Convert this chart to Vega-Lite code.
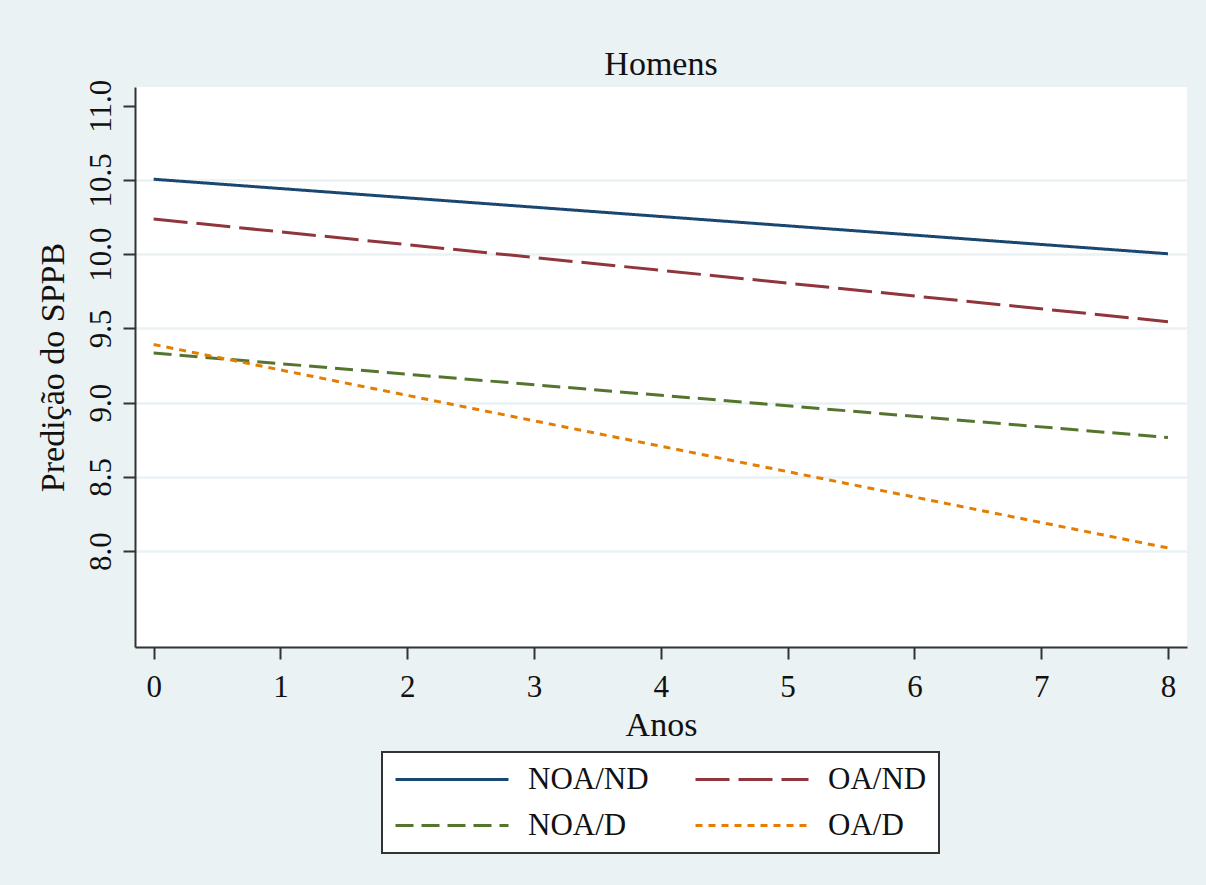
{
  "$schema": "https://vega.github.io/schema/vega-lite/v6.json",
  "width": 1052,
  "height": 560,
  "autosize": {"type": "none"},
  "padding": {"left": 135, "top": 87, "right": 19, "bottom": 238},
  "background": "#EAF2F3",
  "title": {"text": "Homens", "font": "Liberation Serif", "fontSize": 34, "fontWeight": "normal", "color": "#111", "anchor": "middle", "offset": -3},
  "data": {
    "values": [
      {"anos": 0, "pred": 10.505, "grupo": "NOA/ND"},
      {"anos": 8, "pred": 10.003, "grupo": "NOA/ND"},
      {"anos": 0, "pred": 10.237, "grupo": "OA/ND"},
      {"anos": 8, "pred": 9.546, "grupo": "OA/ND"},
      {"anos": 0, "pred": 9.334, "grupo": "NOA/D"},
      {"anos": 8, "pred": 8.766, "grupo": "NOA/D"},
      {"anos": 0, "pred": 9.392, "grupo": "OA/D"},
      {"anos": 8, "pred": 8.022, "grupo": "OA/D"}
    ]
  },
  "mark": {"type": "line", "strokeWidth": 3, "clip": true},
  "encoding": {
    "x": {
      "field": "anos", "type": "quantitative",
      "scale": {"domain": [-0.147, 8.15], "nice": false, "zero": false},
      "axis": {"title": "Anos", "values": [0, 1, 2, 3, 4, 5, 6, 7, 8], "grid": false, "labelPadding": 13, "titlePadding": 6, "format": "d"}
    },
    "y": {
      "field": "pred", "type": "quantitative",
      "scale": {"domain": [7.355, 11.126], "nice": false, "zero": false},
      "axis": {
        "title": "Predição do SPPB",
        "values": [8, 8.5, 9, 9.5, 10, 10.5, 11],
        "format": ".1f",
        "grid": true,
        "gridColor": "#EAF2F3",
        "gridWidth": 2.5,
        "gridOpacity": {"condition": {"test": "datum.value > 10.9", "value": 0}, "value": 1},
        "labelAngle": -90,
        "labelAlign": "center",
        "labelBaseline": "alphabetic",
        "labelPadding": 13,
        "titlePadding": 22,
        "titleBaseline": "alphabetic"
      }
    },
    "color": {
      "field": "grupo", "type": "nominal",
      "sort": ["NOA/ND", "OA/ND", "NOA/D", "OA/D"],
      "scale": {"domain": ["NOA/ND", "OA/ND", "NOA/D", "OA/D"], "range": ["#1A476F", "#90353B", "#55752F", "#E37E00"]},
      "legend": {"title": null}
    },
    "strokeDash": {
      "field": "grupo", "type": "nominal",
      "sort": ["NOA/ND", "OA/ND", "NOA/D", "OA/D"],
      "scale": {"domain": ["NOA/ND", "OA/ND", "NOA/D", "OA/D"], "range": [[1, 0], [34, 9], [18, 8], [7, 6]]},
      "legend": {"title": null}
    }
  },
  "config": {
    "view": {"fill": "white", "stroke": null},
    "axis": {
      "labelFont": "Liberation Serif",
      "labelFontSize": 31,
      "labelColor": "#111",
      "titleFont": "Liberation Serif",
      "titleFontSize": 34,
      "titleFontWeight": "normal",
      "titleColor": "#111",
      "domainColor": "#333",
      "domainWidth": 2,
      "tickColor": "#333",
      "tickWidth": 2,
      "tickSize": 12
    },
    "legend": {
      "orient": "none",
      "legendX": 247,
      "legendY": 665,
      "direction": "horizontal",
      "columns": 2,
      "symbolType": "stroke",
      "symbolSize": 12769,
      "symbolStrokeWidth": 3,
      "clipHeight": 31,
      "labelFont": "Liberation Serif",
      "labelFontSize": 31,
      "labelColor": "#111",
      "labelOffset": 18,
      "labelLimit": 300,
      "columnPadding": 45,
      "rowPadding": 14,
      "padding": 12,
      "strokeColor": "#333",
      "strokeWidth": 2,
      "fillColor": "white"
    }
  }
}
